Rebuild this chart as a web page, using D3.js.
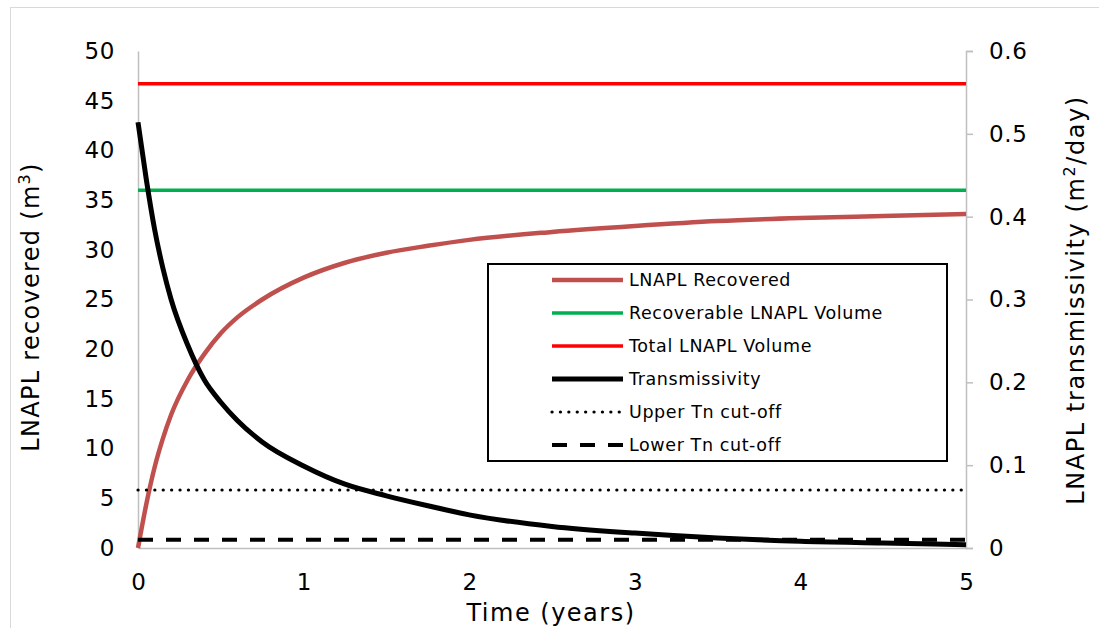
<!DOCTYPE html>
<html>
<head>
    <title></title>
    <style>
        body { margin: 0; background: #fff; }
        text { font-family: "DejaVu Sans", Verdana, sans-serif; fill: #000; }
    </style>
</head>
<body>
<script src="https://d3js.org/d3.v7.min.js"></script>
<script type="text/javascript">

    // time in years
    var timeYears = [0, 0.05, 0.1, 0.15, 0.2, 0.3, 0.4, 0.5, 0.6, 0.75, 1.0, 1.25, 1.5, 1.75, 2.0, 2.5, 3.0, 3.5, 4.0, 4.5, 5.0];
    // LNAPL recovered (m3), left axis
    var recovered = [0, 4.4, 8.1, 11.0, 13.4, 16.9, 19.5, 21.6, 23.2, 25.0, 27.2, 28.7, 29.7, 30.4, 31.0, 31.8, 32.4, 32.9, 33.2, 33.4, 33.6];
    // LNAPL transmissivity (m2/day), right axis
    var transmissivity = [0.514, 0.445, 0.385, 0.338, 0.300, 0.245, 0.203, 0.176, 0.154, 0.128, 0.099, 0.077, 0.063, 0.051, 0.040, 0.026, 0.018, 0.012, 0.008, 0.006, 0.004];

    var recoverableVolume = 36.0;
    var totalVolume = 46.7;
    var upperCutoff = 0.07;
    var lowerCutoff = 0.01;

    var xTicks = [0, 1, 2, 3, 4, 5];
    var leftTicks = [0, 5, 10, 15, 20, 25, 30, 35, 40, 45, 50];
    var rightTicks = [0, 0.1, 0.2, 0.3, 0.4, 0.5, 0.6];

    var legendNames = ['LNAPL Recovered', 'Recoverable LNAPL Volume', 'Total LNAPL Volume',
                       'Transmissivity', 'Upper Tn cut-off', 'Lower Tn cut-off'];

    var widthCanvas = 1099;
    var heightCanvas = 628;
    var plotLeft = 138, plotRight = 966, plotTop = 51, plotBottom = 548;

    var xScale = d3.scaleLinear().domain([0, 5]).range([plotLeft, plotRight]);
    var yLeft = d3.scaleLinear().domain([0, 50]).range([plotBottom, plotTop]);
    var yRight = d3.scaleLinear().domain([0, 0.6]).range([plotBottom, plotTop]);

    var canvas = d3.select('body')
                    .append('svg')
                        .attr('width', widthCanvas)
                        .attr('height', heightCanvas);

    // outer chart border
    canvas.append('rect')
        .attr('x', 10.5).attr('y', 7.5)
        .attr('width', 1200).attr('height', 700)
        .attr('fill', 'none')
        .attr('stroke', '#d9d9d9');

    var axisColor = '#bfbfbf';

    // left axis: line, no ticks
    var leftAxis = canvas.append('g')
        .attr('transform', 'translate(' + plotLeft + ',0)')
        .call(d3.axisLeft(yLeft).tickValues(leftTicks).tickSize(0).tickPadding(23).tickFormat(d3.format('d')));
    leftAxis.select('.domain').attr('stroke', axisColor).attr('stroke-width', 1.5);
    leftAxis.selectAll('text').style('font-size', '23px').style('letter-spacing', '0.6px').attr('font-family', null);

    // right axis with outward ticks
    var rightAxis = canvas.append('g')
        .attr('transform', 'translate(' + plotRight + ',0)')
        .call(d3.axisRight(yRight).tickValues(rightTicks).tickSizeInner(7).tickSizeOuter(7).tickPadding(16)
              .tickFormat(function(d) { return d === 0 ? '0' : d3.format('.1f')(d); }));
    rightAxis.select('.domain').attr('stroke', axisColor).attr('stroke-width', 1.5);
    rightAxis.selectAll('line').attr('stroke', axisColor).attr('stroke-width', 1.5);
    rightAxis.selectAll('text').style('font-size', '23px').style('letter-spacing', '0.6px').attr('font-family', null);

    // bottom axis
    var bottomAxis = canvas.append('g')
        .attr('transform', 'translate(0,' + plotBottom + ')')
        .call(d3.axisBottom(xScale).tickValues(xTicks).tickSize(0).tickPadding(26).tickFormat(d3.format('d')));
    bottomAxis.select('.domain').attr('stroke', axisColor).attr('stroke-width', 1.5);
    bottomAxis.selectAll('text').style('font-size', '23px').attr('font-family', null);

    // axis titles
    canvas.append('text')
        .attr('x', 551).attr('y', 621)
        .attr('text-anchor', 'middle')
        .style('font-size', '24px')
        .style('letter-spacing', '1.5px')
        .text('Time (years)');

    var lt = canvas.append('text')
        .attr('transform', 'translate(39,' + 307 + ') rotate(-90)')
        .attr('text-anchor', 'middle')
        .style('font-size', '24px')
        .style('letter-spacing', '1.3px');
    lt.append('tspan').text('LNAPL recovered (m');
    lt.append('tspan').attr('baseline-shift', 'super').style('font-size', '16px').text('3');
    lt.append('tspan').text(')');

    var rt = canvas.append('text')
        .attr('transform', 'translate(1084,' + 300 + ') rotate(-90)')
        .attr('text-anchor', 'middle')
        .style('font-size', '24px')
        .style('letter-spacing', '1.6px');
    rt.append('tspan').text('LNAPL transmissivity (m');
    rt.append('tspan').attr('baseline-shift', 'super').style('font-size', '16px').text('2');
    rt.append('tspan').text('/day)');

    var styles = [
        { color: '#c0504d', width: 4.5, dash: null, cap: 'butt' },
        { color: '#00b050', width: 3.5, dash: null, cap: 'butt' },
        { color: '#ff0000', width: 3.5, dash: null, cap: 'butt' },
        { color: '#000000', width: 5, dash: null, cap: 'butt' },
        { color: '#000000', width: 3.2, dash: '0.1,8.3', cap: 'round' },
        { color: '#000000', width: 4, dash: '15,13', cap: 'butt' }
    ];

    function drawLine(points, yScale, s) {
        canvas.append('path')
            .datum(points)
            .attr('fill', 'none')
            .attr('stroke', s.color)
            .attr('stroke-width', s.width)
            .attr('stroke-dasharray', s.dash)
            .attr('stroke-linecap', s.cap)
            .attr('stroke-linejoin', 'round')
            .attr('d', d3.line()
                .x(function(d) { return xScale(d[0]); })
                .y(function(d) { return yScale(d[1]); })
                .curve(d3.curveMonotoneX));
    }

    var recPoints = timeYears.map(function(t, i) { return [t, recovered[i]]; });
    var tnPoints = timeYears.map(function(t, i) { return [t, transmissivity[i]]; });

    drawLine(recPoints, yLeft, styles[0]);
    drawLine([[0, recoverableVolume], [5, recoverableVolume]], yLeft, styles[1]);
    drawLine([[0, totalVolume], [5, totalVolume]], yLeft, styles[2]);
    drawLine(tnPoints, yRight, styles[3]);
    drawLine([[0, upperCutoff], [5, upperCutoff]], yRight, styles[4]);
    drawLine([[0, lowerCutoff], [5, lowerCutoff]], yRight, styles[5]);

    // legend
    var legend = canvas.append('g');
    legend.append('rect')
        .attr('x', 488).attr('y', 264)
        .attr('width', 459).attr('height', 197)
        .attr('fill', '#fff')
        .attr('stroke', '#000')
        .attr('stroke-width', 2);

    var rows = legend.selectAll('g.row')
        .data(legendNames)
        .enter()
        .append('g')
            .attr('class', 'row')
            .attr('transform', function(d, i) { return 'translate(0,' + (280 + i * 33) + ')'; });

    rows.append('line')
        .attr('x1', 552).attr('x2', 623)
        .attr('y1', 0).attr('y2', 0)
        .attr('stroke', function(d, i) { return styles[i].color; })
        .attr('stroke-width', function(d, i) { return styles[i].width; })
        .attr('stroke-dasharray', function(d, i) { return styles[i].dash; })
        .attr('stroke-linecap', function(d, i) { return styles[i].cap; });

    rows.append('text')
        .attr('x', 629).attr('y', 6)
        .style('font-size', '17.5px')
        .style('letter-spacing', '0.6px')
        .text(function(d) { return d; });

</script>
</body>
</html>
